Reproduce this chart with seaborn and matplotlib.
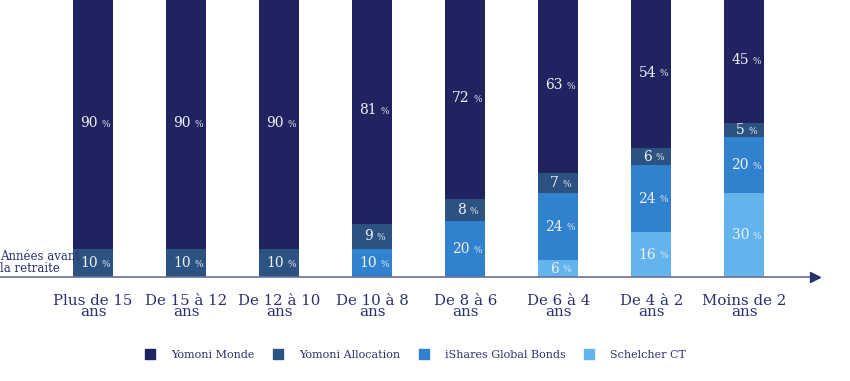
import matplotlib

matplotlib.use("Agg")
import matplotlib.pyplot as plt
import numpy as np
import pandas as pd
import seaborn as sns
from matplotlib.lines import Line2D

categories = ["Plus de 15\nans", "De 15 à 12\nans", "De 12 à 10\nans", "De 10 à 8\nans",
              "De 8 à 6\nans", "De 6 à 4\nans", "De 4 à 2\nans", "Moins de 2\nans"]
schelcher = [0, 0, 0, 0, 0, 6, 16, 30]
bonds = [0, 0, 0, 10, 20, 24, 24, 20]
allocation = [10, 10, 10, 9, 8, 7, 6, 5]
monde = [90, 90, 90, 81, 72, 63, 54, 45]

series_names = ["Yomoni Monde", "Yomoni Allocation", "iShares Global Bonds", "Schelcher CT"]
colors = {"Yomoni Monde": "#1f2461", "Yomoni Allocation": "#2c5282",
          "iShares Global Bonds": "#3182ce", "Schelcher CT": "#63b3ed"}
NAVY = "#2a3170"

sns.set_theme(style="white")
plt.rcParams["font.family"] = ["DejaVu Serif"]

df = pd.DataFrame({"cat": categories, "Schelcher CT": schelcher,
                   "iShares Global Bonds": bonds, "Yomoni Allocation": allocation,
                   "Yomoni Monde": monde})

fig = plt.figure(figsize=(8.5, 3.81), dpi=100)
ax = fig.add_axes([0.0, 0.273, 0.959, 0.727])

# stack from bottom: Schelcher, Bonds, Allocation, Monde
stack_order = ["Schelcher CT", "iShares Global Bonds", "Yomoni Allocation", "Yomoni Monde"]
cum = df[stack_order].cumsum(axis=1)
bottoms = cum.shift(axis=1).fillna(0)

# draw cumulative totals from the top layer down so each covers the next
for name in reversed(stack_order):
    sns.barplot(x=df["cat"], y=cum[name], color=colors[name], width=0.43,
                saturation=1, ax=ax, order=categories, linewidth=0)

for name in stack_order:
    for i in range(len(categories)):
        v = df[name].iloc[i]
        if v <= 0:
            continue
        yc = bottoms[name].iloc[i] + v / 2
        ax.annotate(f"{v}", (i, yc), xytext=(-3, 0), textcoords="offset points",
                    ha="center", va="center", color="#f0f0f5", fontsize=10)
        off = 6 if v < 10 else 9
        ax.annotate("%", (i, yc), xytext=(off, -1), textcoords="offset points",
                    ha="center", va="center", color="#e0e4ee", fontsize=6.5)

ax.set_xlim(-1, 7.76)
ax.set_ylim(0, 98.9)
ax.set_xlabel("")
ax.set_ylabel("")
ax.set_yticks([])
for s in ax.spines.values():
    s.set_visible(False)
ax.axhline(0, color="#6a6f9a", lw=1.2, xmin=0, xmax=0.995, clip_on=False)
ax.plot([7.76], [0], marker=">", color=NAVY, ms=7, clip_on=False)

ax.set_xticks(range(len(categories)))
ax.set_xticklabels(categories, fontsize=10.8, color=NAVY, linespacing=0.72)
ax.tick_params(axis="x", length=0, pad=12)

ax.text(-0.995, 5.2, "Années avant\nla retraite", ha="left", va="center",
        fontsize=8.5, color=NAVY, linespacing=0.95)

handles = [Line2D([], [], marker="s", ls="", ms=7, color=colors[n]) for n in series_names]
fig.legend(handles, series_names, loc="center", bbox_to_anchor=(0.488, 0.068),
           ncol=4, frameon=False, fontsize=8, labelcolor=NAVY,
           handletextpad=1.3, columnspacing=1.5, handlelength=1.2)

fig.savefig("out.png", dpi=100)
